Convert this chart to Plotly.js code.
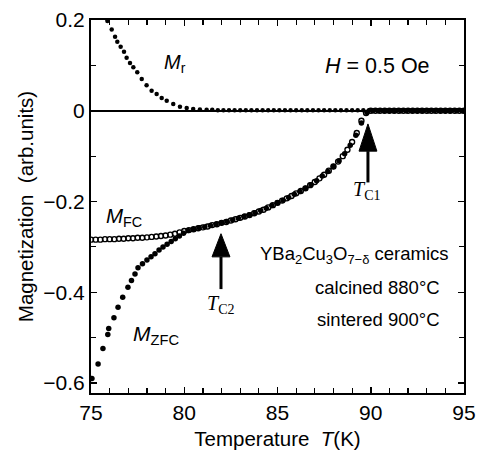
<!DOCTYPE html>
<html><head><meta charset="utf-8">
<script src="https://cdn.plot.ly/plotly-3.0.1.min.js"></script>
<style>html,body{margin:0;padding:0;background:#fff}#plot{width:483px;height:458px}</style>
</head><body><div id="plot"></div>
<script>
// Field-cooled magnetization (open circles)
const fcT = [75.0,75.25,75.5,75.75,76.0,76.25,76.5,76.75,77.0,77.25,77.5,77.75,78.0,78.25,78.5,78.75,79.0,79.25,79.5,79.75,
  80.0,80.25,80.5,80.75,81.0,81.25,81.5,81.75,82.0,82.25,82.5,82.75,83.0,83.25,83.5,83.75,84.0,84.25,84.5,84.75,
  85.0,85.25,85.5,85.75,86.0,86.25,86.5,86.75,87.0,87.25,87.5,87.75,88.0,88.25,88.5,88.75,89.0,89.25,89.5,89.75,
  90.0,90.25,90.5,90.75,91.0,91.25,91.5,91.75,92.0,92.25,92.5,92.75,93.0,93.25,93.5,93.75,94.0,94.25,94.5,94.75,95.0];
const fcM = [-0.284,-0.284,-0.284,-0.283,-0.283,-0.283,-0.282,-0.282,-0.281,-0.281,-0.280,-0.280,-0.279,-0.278,-0.277,-0.276,-0.275,-0.273,-0.271,-0.268,
  -0.265,-0.263,-0.261,-0.259,-0.257,-0.255,-0.252,-0.250,-0.247,-0.245,-0.242,-0.239,-0.236,-0.233,-0.230,-0.226,-0.222,-0.218,-0.213,-0.208,
  -0.203,-0.198,-0.193,-0.188,-0.182,-0.177,-0.171,-0.164,-0.157,-0.149,-0.141,-0.132,-0.123,-0.112,-0.100,-0.086,-0.069,-0.049,-0.022,-0.005,
  0.000,0.000,0.000,0.000,0.000,0.000,0.000,0.000,0.000,0.000,0.000,0.000,0.000,0.000,0.000,0.000,0.000,0.000,0.000,0.000,0.000];
// Zero-field-cooled magnetization (solid dots)
const zfcT = [75.05,75.38,75.64,75.90,75.95,76.23,76.45,76.70,76.98,77.17,77.36,77.52,77.76,78.00,78.22,78.43,78.65,78.86,79.08,79.30,79.52,79.74,79.96,
  80.2,80.5,80.8,81.1,81.4,81.7,82.0,82.3,82.6,82.9,83.2,83.5,83.8,84.1,84.4,84.7,85.0,85.3,85.6,85.9,86.2,86.5,86.8,87.1,87.4,87.7,88.0,88.3,88.6,88.9,89.2,89.5,89.8,
  90.1,90.4,90.7,91.0,91.3,91.6,91.9,92.2,92.5,92.8,93.1,93.4,93.7,94.0,94.3,94.6,94.9];
const zfcM = [-0.590,-0.558,-0.524,-0.493,-0.480,-0.456,-0.433,-0.411,-0.389,-0.374,-0.360,-0.346,-0.337,-0.329,-0.322,-0.315,-0.307,-0.300,-0.294,-0.288,-0.282,-0.276,-0.270,
  -0.264,-0.261,-0.258,-0.256,-0.253,-0.250,-0.247,-0.244,-0.241,-0.237,-0.233,-0.229,-0.225,-0.220,-0.215,-0.209,-0.203,-0.197,-0.191,-0.184,-0.178,-0.171,-0.163,-0.154,-0.144,-0.134,-0.123,-0.110,-0.095,-0.076,-0.054,-0.027,-0.004,
  0.000,0.000,0.000,0.000,0.000,0.000,0.000,0.000,0.000,0.000,0.000,0.000,0.000,0.000,0.000,0.000,0.000];
// Remanent magnetization
const mrT = [75.88,76.11,76.29,76.41,76.59,76.77,76.91,77.09,77.27,77.48,77.72,77.98,78.25,78.52,78.79,79.06,79.41,79.77,80.13,80.48,80.84,
  81.2,81.5,81.8,82.1,82.4,82.7,83.0,83.3,83.6,83.9,84.2,84.5,84.8,85.1,85.4,85.7,86.0,86.3,86.6,86.9,87.2,87.5,87.8,88.1,88.4,88.7,89.0,89.3,89.6,89.9,
  90.2,90.5,90.8,91.1,91.4,91.7,92.0,92.3,92.6,92.9,93.2,93.5,93.8,94.1,94.4,94.7,95.0];
const mrM = [0.198,0.179,0.163,0.152,0.141,0.130,0.117,0.105,0.096,0.085,0.070,0.056,0.044,0.037,0.028,0.022,0.015,0.009,0.006,0.004,0.003,
  0.002,0.002,0.001,0.001,0.001,0.001,0.001,0.001,0.001,0.001,0.001,0.001,0.001,0.001,0.001,0.001,0.001,0.001,0.001,0.001,0.001,0.001,0.001,0.001,0.001,0.001,0.001,0.001,0.001,0.001,
  0.001,0.001,0.001,0.001,0.001,0.001,0.001,0.001,0.001,0.001,0.001,0.001,0.001,0.001,0.001,0.001,0.001];

const xTicks = [75,80,85,90,95];
const yTicks = [0.2,0,-0.2,-0.4,-0.6];
const yTickText = ['0.2','0','\u22120.2','\u22120.4','\u22120.6'];

const sans = 'Liberation Sans, Arial, sans-serif';
const serif = 'Liberation Serif, Times New Roman, serif';

const traces = [
  {x: mrT, y: mrM, mode: 'markers', type: 'scatter',
   marker: {symbol: 'circle', size: 4.5, color: '#000'}},
  {x: zfcT, y: zfcM, mode: 'markers', type: 'scatter',
   marker: {symbol: 'circle', size: 5.5, color: '#000'}},
  {x: fcT, y: fcM, mode: 'markers', type: 'scatter',
   marker: {symbol: 'circle-open', size: 5, color: '#000', line: {width: 1.4, color: '#000'}}}
];

// arrow geometry (annotation graphics): [x, tipY, baseY, tailY, halfWidthK]
const arrows = [[89.85, -0.029, -0.089, -0.158, 0.48], [81.97, -0.271, -0.322, -0.393, 0.48]];
const shapes = [];
arrows.forEach(a => {
  shapes.push({type: 'line', xref: 'x', yref: 'y', x0: a[0], x1: a[0], y0: a[2], y1: a[3], line: {color: '#000', width: 3}});
  shapes.push({type: 'path', xref: 'x', yref: 'y', fillcolor: '#000', line: {color: '#000', width: 1},
    path: `M${a[0]-a[4]},${a[2]} L${a[0]},${a[1]} L${a[0]+a[4]},${a[2]} Z`});
});

const annotations = [
  {x: 79.5, y: 0.105, xref: 'x', yref: 'y', text: '<i>M</i><sub>r</sub>', showarrow: false, font: {family: sans, size: 20, color: '#000'}},
  {x: 90.36, y: 0.098, xref: 'x', yref: 'y', text: '<i>H</i> = 0.5 Oe', showarrow: false, font: {family: sans, size: 21.5, color: '#000'}},
  {x: 76.75, y: -0.235, xref: 'x', yref: 'y', text: '<i>M</i><sub>FC</sub>', showarrow: false, font: {family: sans, size: 20.5, color: '#000'}},
  {x: 78.5, y: -0.495, xref: 'x', yref: 'y', text: '<i>M</i><sub>ZFC</sub>', showarrow: false, font: {family: sans, size: 21, color: '#000'}},
  {x: 89.75, y: -0.176, xref: 'x', yref: 'y', text: '<i>T</i><sub>C1</sub>', showarrow: false, font: {family: serif, size: 20, color: '#000'}},
  {x: 81.95, y: -0.428, xref: 'x', yref: 'y', text: '<i>T</i><sub>C2</sub>', showarrow: false, font: {family: serif, size: 20, color: '#000'}},
  {x: 94.3, y: -0.318, xref: 'x', yref: 'y', xanchor: 'right', text: 'YBa<sub>2</sub>Cu<sub>3</sub>O<sub>7\u2212\u03b4</sub> ceramics', showarrow: false, font: {family: sans, size: 18.5, color: '#000'}},
  {x: 93.8, y: -0.389, xref: 'x', yref: 'y', xanchor: 'right', text: 'calcined 880\u00b0C', showarrow: false, font: {family: sans, size: 18.5, color: '#000'}},
  {x: 93.8, y: -0.460, xref: 'x', yref: 'y', xanchor: 'right', text: 'sintered 900\u00b0C', showarrow: false, font: {family: sans, size: 18.5, color: '#000'}}
];

const layout = {
  width: 483, height: 458,
  margin: {l: 91, r: 19, t: 20, b: 65},
  paper_bgcolor: '#fff', plot_bgcolor: '#fff',
  showlegend: false,
  xaxis: {
    range: [75, 95], tickvals: xTicks, ticktext: xTicks.map(String),
    ticks: 'inside', ticklen: 6, tickwidth: 1.5, tickcolor: '#000',
    minor: {dtick: 1, tick0: 75, ticks: 'inside', ticklen: 5, tickwidth: 1.2, tickcolor: '#000'},
    showline: true, linecolor: '#000', linewidth: 2, mirror: 'ticks',
    showgrid: false, zeroline: false,
    tickfont: {family: sans, size: 21, color: '#000'},
    title: {text: 'Temperature  <i>T</i>(K)', font: {family: sans, size: 20.5, color: '#000'}, standoff: 8}
  },
  yaxis: {
    range: [-0.622, 0.2], tickvals: yTicks, ticktext: yTickText,
    ticks: 'inside', ticklen: 6, tickwidth: 1.5, tickcolor: '#000',
    minor: {dtick: 0.1, tick0: 0, ticks: 'inside', ticklen: 5, tickwidth: 1.2, tickcolor: '#000'},
    showline: true, linecolor: '#000', linewidth: 2, mirror: 'ticks',
    showgrid: false, zeroline: true, zerolinecolor: '#000', zerolinewidth: 1.5,
    tickfont: {family: sans, size: 21, color: '#000'},
    title: {text: 'Magnetization  (arb.units)', font: {family: sans, size: 20.5, color: '#000'}, standoff: 4}
  },
  shapes: shapes,
  annotations: annotations
};

Plotly.newPlot('plot', traces, layout, {staticPlot: true, displayModeBar: false});
</script></body></html>
